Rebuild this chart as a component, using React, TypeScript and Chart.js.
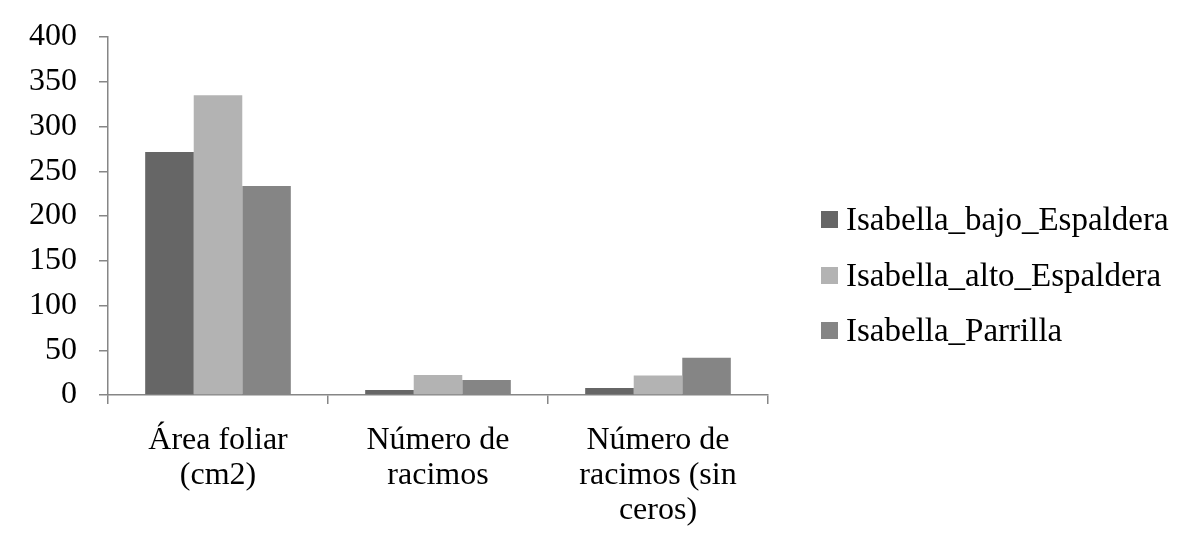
import React, { useEffect, useRef } from "react";
import { Chart, registerables } from "chart.js";

Chart.register(...registerables);

const categories: string[][] = [
  ["Área foliar", "(cm2)"],
  ["Número de", "racimos"],
  ["Número de", "racimos (sin", "ceros)"],
];
const seriesNames = ["Isabella_bajo_Espaldera", "Isabella_alto_Espaldera", "Isabella_Parrilla"];
const bajoEspaldera = [271.5, 5.6, 7.8];
const altoEspaldera = [335, 22.3, 21.8];
const parrilla = [233.5, 16.8, 41.7];
const seriesColors = ["#666666", "#b3b3b3", "#858585"];
const yTicksMax = 400;
const yTicksStep = 50;

const FONT = "'Liberation Serif', 'Times New Roman', serif";
const AXIS_COLOR = "#868686";

const legendPlugin = {
  id: "rightLegend",
  afterDraw(chart: any) {
    const ctx = chart.ctx;
    const datasets = chart.data.datasets;
    const x0 = 821;
    const centers = [219, 275, 330];
    ctx.save();
    ctx.font = `33px ${FONT}`;
    ctx.textBaseline = "alphabetic";
    ctx.textAlign = "left";
    datasets.forEach((ds: any, i: number) => {
      const cy = centers[i];
      ctx.fillStyle = ds.backgroundColor;
      ctx.fillRect(x0, cy - 8, 17, 17);
      ctx.fillStyle = "#000000";
      ctx.fillText(ds.label, x0 + 25, cy + 10.5);
    });
    ctx.restore();
  },
};

export default function App() {
  const ref = useRef<HTMLCanvasElement>(null);
  useEffect(() => {
    document.body.style.margin = "0";
    const chart = new Chart(ref.current!, {
      type: "bar",
      data: {
        labels: categories,
        datasets: [
          { label: seriesNames[0], data: bajoEspaldera, backgroundColor: seriesColors[0] },
          { label: seriesNames[1], data: altoEspaldera, backgroundColor: seriesColors[1] },
          { label: seriesNames[2], data: parrilla, backgroundColor: seriesColors[2] },
        ],
      },
      options: {
        responsive: false,
        animation: false,
        layout: { padding: { left: 7, top: 37, right: 417, bottom: 0 } },
        datasets: { bar: { barPercentage: 1, categoryPercentage: 0.662 } },
        plugins: {
          legend: { display: false },
          tooltip: { enabled: false },
        },
        scales: {
          x: {
            grid: { display: true, drawOnChartArea: false, tickLength: 9, color: AXIS_COLOR, lineWidth: 1.5 },
            border: { color: AXIS_COLOR, width: 1.5 },
            afterFit: (scale: any) => {
              scale.height = 150;
            },
            ticks: {
              color: "#000000",
              font: { family: FONT, size: 32, lineHeight: 1.1 },
              padding: 19,
              maxRotation: 0,
              autoSkip: false,
            },
          },
          y: {
            min: 0,
            max: yTicksMax,
            grid: { display: true, drawOnChartArea: false, tickLength: 9, color: AXIS_COLOR, lineWidth: 1.5 },
            border: { color: AXIS_COLOR, width: 1.5 },
            afterFit: (scale: any) => {
              scale.paddingTop = 0;
              scale.paddingBottom = 0;
            },
            ticks: {
              stepSize: yTicksStep,
              color: "#000000",
              font: { family: FONT, size: 32, lineHeight: 1.1 },
              padding: 22,
            },
          },
        },
      },
      plugins: [legendPlugin],
    });
    return () => chart.destroy();
  }, []);
  return <canvas ref={ref} width={1185} height={545} style={{ display: "block" }} />;
}
